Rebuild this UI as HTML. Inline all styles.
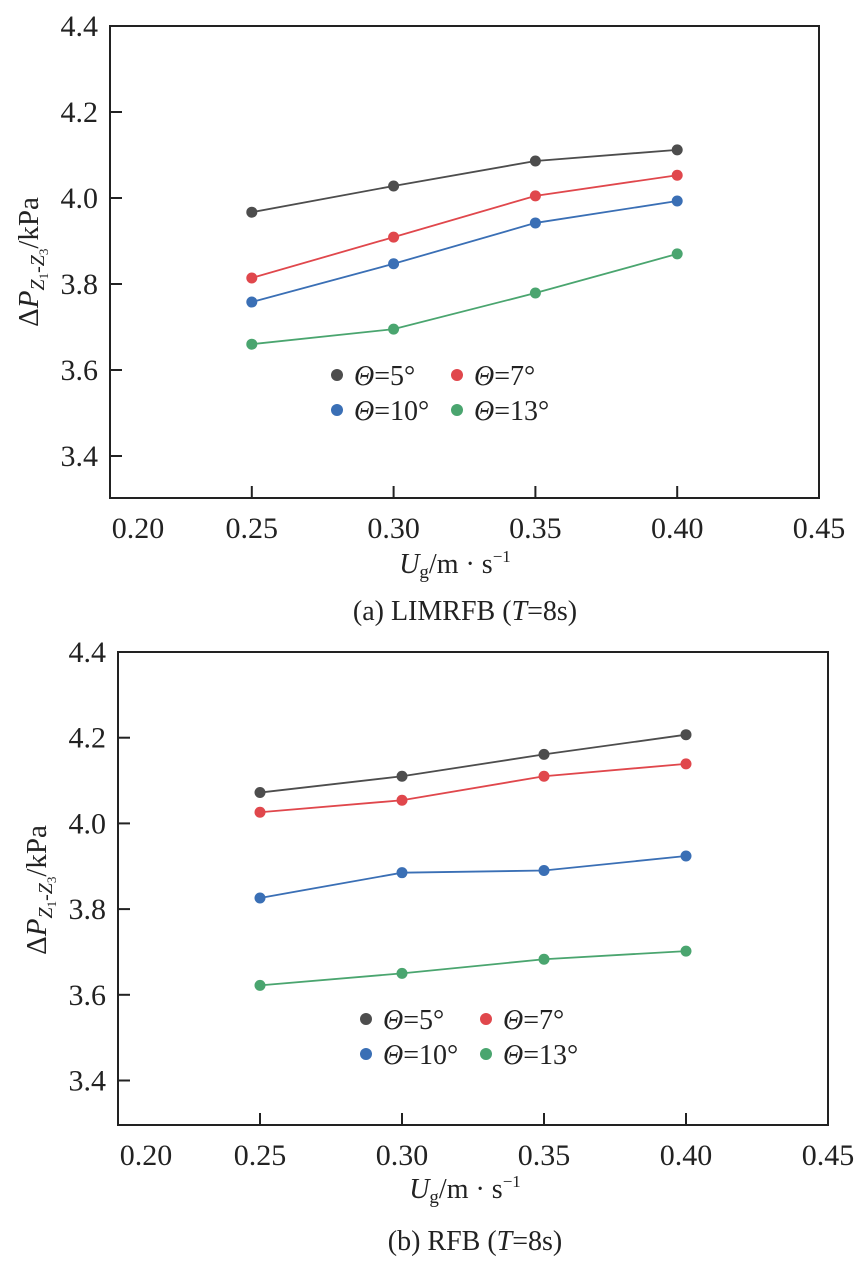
<!DOCTYPE html>
<html><head><meta charset="utf-8"><style>
body{margin:0;background:#fff;}
svg{display:block;}
text{font-family:"Liberation Serif","DejaVu Serif",serif;}
</style></head><body>
<svg id="c" width="868" height="1264" viewBox="0 0 868 1264" xmlns="http://www.w3.org/2000/svg" font-family="Liberation Serif, serif">
</svg>
<script>
const xCats = [0.25, 0.30, 0.35, 0.40];
const xTicks = [0.20, 0.25, 0.30, 0.35, 0.40, 0.45];
const yTicks = [3.4, 3.6, 3.8, 4.0, 4.2, 4.4];
const seriesNames = ["Θ=5°", "Θ=7°", "Θ=10°", "Θ=13°"];
const colors = ["#4d4d4d", "#e0474c", "#3a6fb5", "#4aa56f"];
const aTheta5 = [3.967, 4.028, 4.086, 4.112];
const aTheta7 = [3.814, 3.909, 4.005, 4.053];
const aTheta10 = [3.758, 3.847, 3.942, 3.993];
const aTheta13 = [3.660, 3.695, 3.779, 3.870];
const bTheta5 = [4.072, 4.110, 4.161, 4.207];
const bTheta7 = [4.026, 4.054, 4.110, 4.139];
const bTheta10 = [3.826, 3.885, 3.890, 3.924];
const bTheta13 = [3.622, 3.650, 3.683, 3.702];

const svg = document.getElementById('c');
const NS = 'http://www.w3.org/2000/svg';
const FF = '"Liberation Serif", serif';
function mk(tag, attrs, parent){const e=document.createElementNS(NS,tag);for(const k in attrs)e.setAttribute(k,attrs[k]);if(tag==='text')e.setAttribute('font-family','Liberation Serif, serif');(parent||svg).appendChild(e);return e;}

function panel(p){
  const g = mk('g',{});
  
  
  const xs = v => p.L + (v-0.20)/0.25*(p.R-p.L);
  const ys = v => p.y44 + (4.4-v)/0.2*p.step;
  const frame = mk('rect',{x:p.L,y:p.T,width:p.R-p.L,height:p.B-p.T,fill:'none',stroke:'#222','stroke-width':2},g);
  
  
  yTicks.forEach(t=>{
    const y=ys(t);
    const tk=mk('line',{x1:p.L,x2:p.L+12,y1:y,y2:y,stroke:'#222','stroke-width':2},g);
    
    
    const tl=mk('text',{x:p.L-12,y:y+10,'text-anchor':'end','font-size':30,fill:'#222'},g);
    tl.textContent=t.toFixed(1);
    
    
  });
  xTicks.forEach((t,i)=>{
    const x=xs(t);
    if(i>0&&i<xTicks.length-1){
      const tk=mk('line',{x1:x,x2:x,y1:p.B,y2:p.B-12,stroke:'#222','stroke-width':2},g);
      
      
    }
    const lx = i===0 ? x+28 : x;
    const tl=mk('text',{x:lx,y:p.B+40,'text-anchor':'middle','font-size':30,fill:'#222'},g);
    tl.textContent=t.toFixed(2);
    
    
  });
  p.data.forEach((arr,si)=>{
    const pts=arr.map((v,i)=>xs(xCats[i])+','+ys(v)).join(' ');
    const pl=mk('polyline',{points:pts,fill:'none',stroke:colors[si],'stroke-width':1.8},g);
    
    
    arr.forEach((v,i)=>{
      const c=mk('circle',{cx:xs(xCats[i]),cy:ys(v),r:5.5,fill:colors[si]},g);
      
      
    });
  });
  seriesNames.forEach((n,si)=>{
    const lx=p.legX+(si%2)*120, ly=p.legY+Math.floor(si/2)*35;
    const lg=mk('g',{},g);
    
    
    mk('circle',{cx:lx,cy:ly,r:6,fill:colors[si]},lg);
    const t=mk('text',{x:lx+17,y:ly+10,'font-size':28,fill:'#222'},lg);
    const it=mk('tspan',{'font-style':'italic'},t); it.textContent='Θ';
    const r=mk('tspan',{},t); r.textContent=n.slice(1);
  });
  const yt=mk('text',{transform:`translate(${p.ytX},${p.ytY}) rotate(-90)`,'text-anchor':'middle','font-size':29,fill:'#222'},g);
  
  
  let s=mk('tspan',{},yt); s.textContent='Δ';
  s=mk('tspan',{'font-style':'italic'},yt); s.textContent='P';
  s=mk('tspan',{'font-style':'italic','font-size':20,dy:6},yt); s.textContent='Z';
  s=mk('tspan',{'font-size':13,dy:4},yt); s.textContent='1';
  s=mk('tspan',{'font-size':20,dy:-4},yt); s.textContent='-';
  s=mk('tspan',{'font-style':'italic','font-size':20},yt); s.textContent='Z';
  s=mk('tspan',{'font-size':13,dy:4},yt); s.textContent='3';
  s=mk('tspan',{dy:-10},yt); s.textContent='/kPa';
  const xt=mk('text',{x:p.xtX,y:p.xtY,'text-anchor':'middle','font-size':28,fill:'#222'},g);
  
  
  s=mk('tspan',{'font-style':'italic'},xt); s.textContent='U';
  s=mk('tspan',{'font-size':19,dy:5},xt); s.textContent='g';
  s=mk('tspan',{dy:-5},xt); s.textContent='/m · s';
  s=mk('tspan',{'font-size':17,dy:-11},xt); s.textContent='−1';
  const cp=mk('text',{x:p.xtX+10,y:p.capY,'text-anchor':'middle','font-size':28,fill:'#222'},g);
  
  
  s=mk('tspan',{},cp); s.textContent=p.cap+'  (';
  s=mk('tspan',{'font-style':'italic'},cp); s.textContent='T';
  s=mk('tspan',{},cp); s.textContent='=8s)';
}
panel({id:'chart-a',L:110,R:819,T:26,B:498,y44:26,step:86,data:[aTheta5,aTheta7,aTheta10,aTheta13],legX:337,legY:375,ytX:38,ytY:262,xtX:455,xtY:573,capY:620,cap:'(a) LIMRFB'});
panel({id:'chart-b',L:118,R:828,T:652,B:1125,y44:652,step:85.7,data:[bTheta5,bTheta7,bTheta10,bTheta13],legX:366,legY:1019,ytX:46,ytY:890,xtX:465,xtY:1198,capY:1250,cap:'(b) RFB'});
</script>
</body></html>
